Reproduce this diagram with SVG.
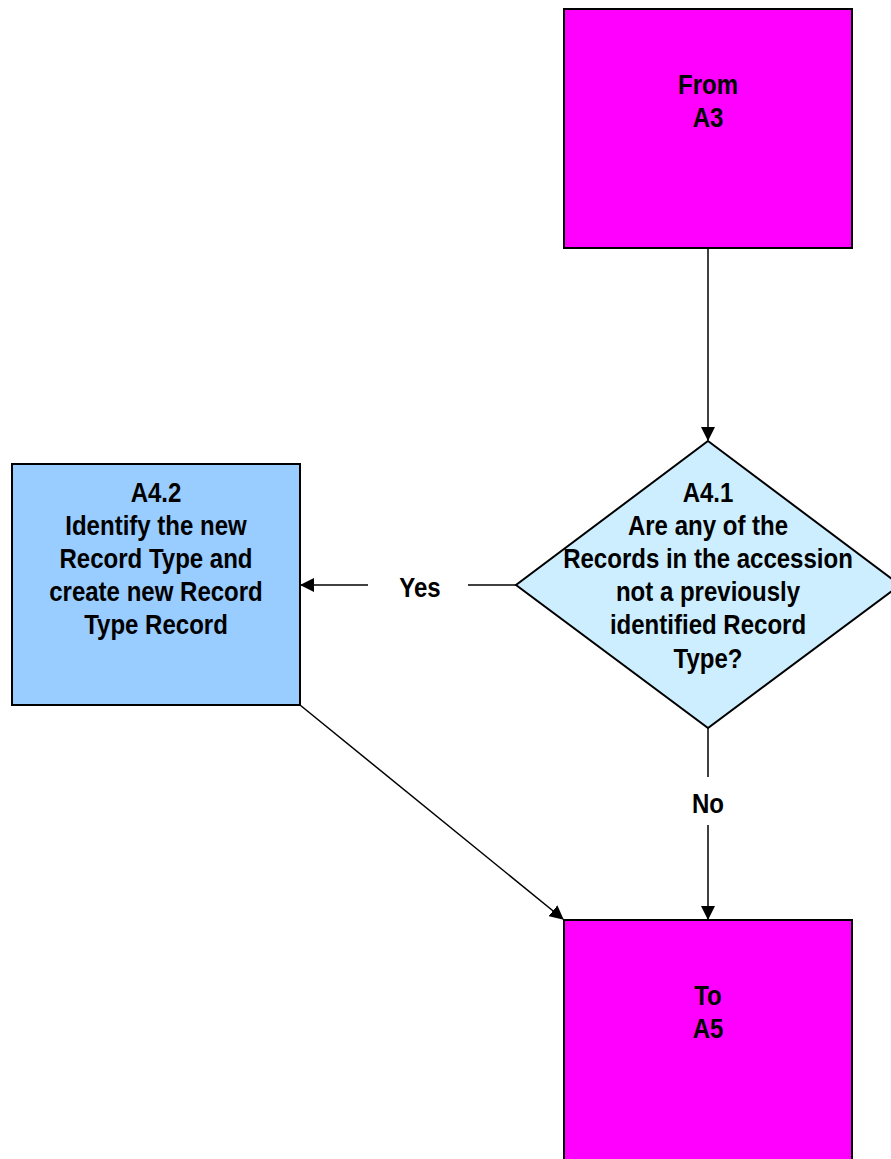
<svg xmlns="http://www.w3.org/2000/svg" width="891" height="1159" viewBox="0 0 891 1159">
  <style>
    .t { font-family: "Liberation Sans", Arial, sans-serif; font-size: 27px; font-weight: bold; fill: #000; text-anchor: middle; }
    .box { stroke: #000; stroke-width: 2; }
    .ln { stroke: #000; stroke-width: 1.5; fill: none; }
  </style>
  <defs>
    <marker id="arrow" markerWidth="14" markerHeight="14" refX="13" refY="7" orient="auto" markerUnits="userSpaceOnUse" viewBox="0 0 14 14">
      <path d="M0,0 L14,7 L0,14 z" fill="#000"/>
    </marker>
  </defs>

  <rect width="891" height="1159" fill="#fff"/>

  <g id="connectors">
    <line class="ln" x1="708" y1="248" x2="708" y2="440" marker-end="url(#arrow)"/>
    <line class="ln" x1="516" y1="585" x2="468" y2="585"/>
    <line class="ln" x1="368" y1="585" x2="301" y2="585" marker-end="url(#arrow)"/>
    <g transform="translate(420 0) scale(0.89 1)">
      <text class="t" x="0" y="597">Yes</text>
    </g>
    <line class="ln" x1="708" y1="728" x2="708" y2="777"/>
    <g transform="translate(708 0) scale(0.89 1)">
      <text class="t" x="0" y="813">No</text>
    </g>
    <line class="ln" x1="708" y1="825" x2="708" y2="919" marker-end="url(#arrow)"/>
    <line class="ln" x1="300" y1="705" x2="563" y2="919" marker-end="url(#arrow)"/>
  </g>

  <g id="from-a3">
    <rect class="box" x="564" y="9" width="288" height="239" fill="#ff00ff"/>
    <g transform="translate(708 0) scale(0.89 1)">
      <text class="t" x="0" y="94">From</text>
      <text class="t" x="0" y="127">A3</text>
    </g>
  </g>

  <g id="a4-1">
    <polygon class="box" points="708,441 900,585 708,728 516,585" fill="#cceeff" stroke-width="1.5"/>
    <g transform="translate(708 0) scale(0.89 1)">
      <text class="t" x="0" y="502">A4.1</text>
      <text class="t" x="0" y="535">Are any of the</text>
      <text class="t" x="0" y="568">Records in the accession</text>
      <text class="t" x="0" y="601">not a previously</text>
      <text class="t" x="0" y="634">identified Record</text>
      <text class="t" x="0" y="668">Type?</text>
    </g>
  </g>

  <g id="a4-2">
    <rect class="box" x="12" y="464" width="288" height="241" fill="#99ccff"/>
    <g transform="translate(156 0) scale(0.89 1)">
      <text class="t" x="0" y="502">A4.2</text>
      <text class="t" x="0" y="535">Identify the new</text>
      <text class="t" x="0" y="568">Record Type and</text>
      <text class="t" x="0" y="601">create new Record</text>
      <text class="t" x="0" y="634">Type Record</text>
    </g>
  </g>

  <g id="to-a5">
    <rect class="box" x="564" y="920" width="288" height="250" fill="#ff00ff"/>
    <g transform="translate(708 0) scale(0.89 1)">
      <text class="t" x="0" y="1005">To</text>
      <text class="t" x="0" y="1038">A5</text>
    </g>
  </g>
</svg>
